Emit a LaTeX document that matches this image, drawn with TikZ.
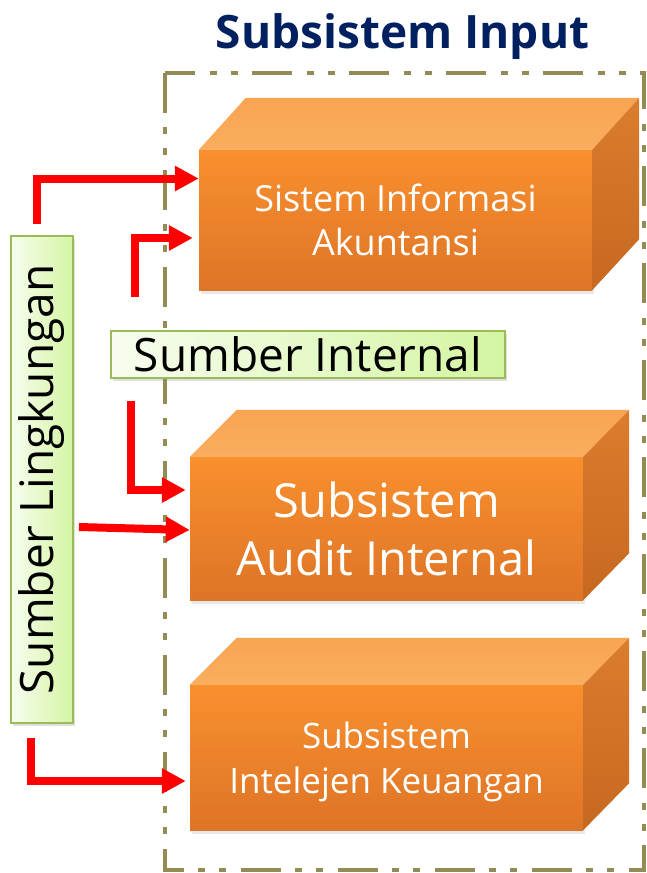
\documentclass[tikz,border=0pt]{standalone}
\usepackage{fontspec}
\usepackage{graphicx}
\setmainfont{Open Sans}
\usetikzlibrary{arrows.meta,calc,shadows}
\definecolor{navy}{HTML}{002060}
\definecolor{olive}{HTML}{948A54}
\definecolor{frontTop}{HTML}{F8902F}
\definecolor{frontBot}{HTML}{DE7426}
\definecolor{topA}{HTML}{F8A452}
\definecolor{topB}{HTML}{FAAE5F}
\definecolor{sideA}{HTML}{DB7D2E}
\definecolor{sideB}{HTML}{C66820}
\definecolor{greenL}{HTML}{F7FDEF}
\definecolor{greenR}{HTML}{D4F5A2}
\definecolor{greenBorder}{HTML}{9BBB59}
\definecolor{arrowRed}{HTML}{FF0000}
\tikzset{
  frontface/.style={inner sep=0pt, top color=frontTop, bottom color=frontBot, text=white, align=center, minimum width=393pt,
    drop shadow={opacity=0.18, shadow xshift=2pt, shadow yshift=-4pt}},
  topface/.style={top color=topA, bottom color=topB},
  sideface/.style={top color=sideA, bottom color=sideB},
  greenbox/.style={draw=greenBorder, line width=1.8pt, left color=greenL, right color=greenR, inner sep=0pt,
    drop shadow={opacity=0.25, shadow xshift=2pt, shadow yshift=-3pt}},
  redarrow/.style={draw=arrowRed, line width=8pt, line join=miter, -{Triangle[length=24pt,width=24pt]}},
  framestyle/.style={draw=olive, line width=4pt, dash pattern=on 40pt off 14pt on 7pt off 14pt on 7pt off 15pt}
}
\begin{document}
\begin{tikzpicture}[x=1pt,y=-1pt]
\useasboundingbox (0,0) rectangle (647,873);
% frame
\draw[framestyle] (165,73) rectangle (644,870);
% title
\node[anchor=base, text=navy, font=\bfseries\fontsize{46}{50}\selectfont, inner sep=0pt] (title) at (402.5,48) {Subsistem Input};
% box 1
\node[frontface, minimum height=140pt, font=\fontsize{36}{44}\selectfont] (b1) at (395.5,220) {Sistem Informasi\\Akuntansi};
\shade[topface] (b1.north west) -- ++(47,-52) -- ($(b1.north east)+(47,-52)$) -- (b1.north east) -- cycle;
\shade[sideface] (b1.north east) -- ++(47,-52) -- ($(b1.south east)+(47,-51)$) -- (b1.south east) -- cycle;
% box 2
\node[frontface, minimum height=143pt, font=\fontsize{47}{58}\selectfont] (b2) at (386.5,528.5) {Subsistem\\Audit Internal};
\shade[topface] (b2.north west) -- ++(47,-47) -- ($(b2.north east)+(46,-47)$) -- (b2.north east) -- cycle;
\shade[sideface] (b2.north east) -- ++(46,-47) -- ($(b2.south east)+(46,-47)$) -- (b2.south east) -- cycle;
% box 3
\node[frontface, minimum height=145pt, text depth=0pt, font=\fontsize{35}{45}\selectfont] (b3) at (386.5,757.5) {Subsistem\\Intelejen Keuangan};
\shade[topface] (b3.north west) -- ++(47,-47) -- ($(b3.north east)+(46,-47)$) -- (b3.north east) -- cycle;
\shade[sideface] (b3.north east) -- ++(46,-47) -- ($(b3.south east)+(46,-47)$) -- (b3.south east) -- cycle;
% green boxes
\node[greenbox, minimum width=62pt, minimum height=487pt, font=\fontsize{46}{50}\selectfont] (sl) at (42,479.5) {\rotatebox{90}{Sumber Lingkungan}};
\node[greenbox, minimum width=394pt, minimum height=47pt, font=\fontsize{46}{50}\selectfont] (si) at (308,354.5) {Sumber Internal};
% arrows
\draw[redarrow] ($(sl.north)+(-5,-11)$) |- ($(b1.west)+(0,-41.5)$);
\draw[redarrow] ($(si.north west)+(24.5,-33)$) |- ($(b1.west)+(-6,18)$);
\draw[redarrow] ($(si.south west)+(21,22)$) |- ($(b2.west)+(-4,-38.5)$);
\draw[redarrow] ($(sl.east)+(5,47.5)$) -- ($(b2.west)+(0,1.5)$);
\draw[redarrow] ($(sl.south)+(-11.5,14)$) |- ($(b3.west)+(-4,23.5)$);
\end{tikzpicture}
\end{document}
